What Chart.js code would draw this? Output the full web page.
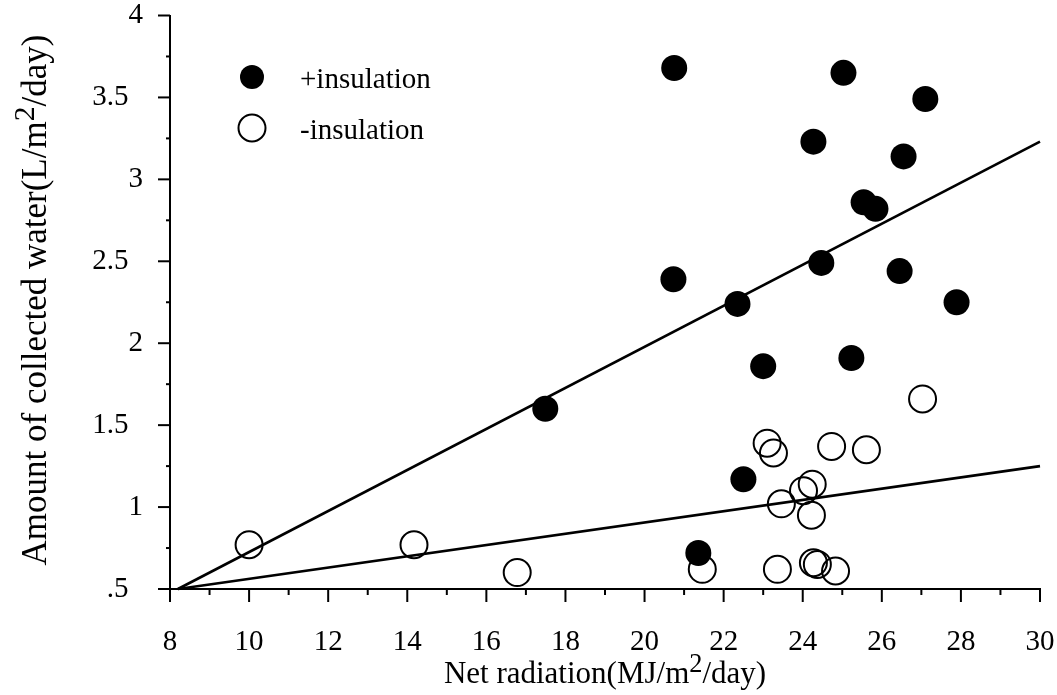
<!DOCTYPE html>
<html>
<head>
<meta charset="utf-8">
<script src="https://cdn.jsdelivr.net/npm/chart.js@4"></script>
<style>
  html, body { margin: 0; padding: 0; background: #fff; }
  #wrap { width: 1057px; height: 695px; position: relative; }
</style>
</head>
<body>
<div id="wrap"><canvas id="mainChart"></canvas></div>
<script>
// +insulation (filled circles)
const insX = [20.75, 25.03, 27.1, 24.27, 26.55, 25.54, 25.84, 24.47, 26.45, 20.73, 22.35, 27.89, 25.23, 23.0, 17.49, 22.5, 21.36];
const insY = [3.68, 3.65, 3.49, 3.23, 3.14, 2.86, 2.82, 2.49, 2.44, 2.39, 2.24, 2.25, 1.91, 1.86, 1.60, 1.17, 0.72];

// -insulation (open circles)
const noInsX = [10.0, 14.17, 16.78, 21.46, 23.1, 23.26, 24.73, 25.61, 27.03, 23.46, 24.02, 24.24, 24.22, 23.36, 24.27, 24.37, 24.83];
const noInsY = [0.77, 0.77, 0.60, 0.62, 1.39, 1.33, 1.37, 1.35, 1.66, 1.02, 1.10, 1.14, 0.95, 0.62, 0.66, 0.65, 0.61];

// regression lines (end points)
const fitInsX = [8.2, 30];
const fitInsY = [0.5, 3.23];
const fitNoInsX = [8.2, 30];
const fitNoInsY = [0.5, 1.25];

const xTickLabels = [8, 10, 12, 14, 16, 18, 20, 22, 24, 26, 28, 30];
const yTickLabels = [0.5, 1, 1.5, 2, 2.5, 3, 3.5, 4];

const FONT = "'Liberation Serif', 'Times New Roman', serif";

function toPoints(xs, ys) {
    return xs.map((v, i) => ({ x: v, y: ys[i] }));
}

function measureParts(ctx, parts, size) {
    let w = 0;
    parts.forEach(p => {
        ctx.font = (p.sup ? size * 0.85 : size) + 'px ' + FONT;
        w += ctx.measureText(p.t).width;
    });
    return w;
}

function fillParts(ctx, parts, size, x0, y0) {
    let x = x0;
    parts.forEach(p => {
        ctx.font = (p.sup ? size * 0.85 : size) + 'px ' + FONT;
        ctx.fillText(p.t, x, p.sup ? y0 - size * 0.35 : y0);
        x += ctx.measureText(p.t).width;
    });
}

const decor = {
    id: 'decor',
    afterDraw(chart) {
        const { ctx, scales: { x, y }, chartArea: a } = chart;
        ctx.save();
        ctx.strokeStyle = '#000';
        ctx.lineWidth = 2;

        // tick marks (major + minor)
        y.ticks.forEach(t => {
            const py = y.getPixelForValue(t.value);
            const major = yTickLabels.some(v => Math.abs(v - t.value) < 1e-6);
            ctx.beginPath();
            ctx.moveTo(a.left, py);
            ctx.lineTo(a.left - (major ? 12 : 4), py);
            ctx.stroke();
        });
        x.ticks.forEach(t => {
            const px = x.getPixelForValue(t.value);
            const major = xTickLabels.includes(t.value);
            ctx.beginPath();
            ctx.moveTo(px, a.bottom);
            ctx.lineTo(px, a.bottom + (major ? 13 : 6));
            ctx.stroke();
        });

        // axis titles
        ctx.fillStyle = '#000';
        ctx.textAlign = 'left';
        ctx.textBaseline = 'alphabetic';
        const xParts = [{ t: 'Net radiation(MJ/m' }, { t: '2', sup: true }, { t: '/day)' }];
        const xw = measureParts(ctx, xParts, 31);
        fillParts(ctx, xParts, 31, (a.left + a.right) / 2 - xw / 2, 683);

        const yParts = [{ t: 'Amount of collected water(L/m' }, { t: '2', sup: true }, { t: '/day)' }];
        const yw = measureParts(ctx, yParts, 35);
        ctx.save();
        ctx.translate(46, 300);
        ctx.rotate(-Math.PI / 2);
        fillParts(ctx, yParts, 35, -yw / 2, 0);
        ctx.restore();

        // legend
        ctx.beginPath();
        ctx.arc(252, 77, 12, 0, Math.PI * 2);
        ctx.fillStyle = '#000';
        ctx.fill();
        ctx.beginPath();
        ctx.arc(252, 128, 13.5, 0, Math.PI * 2);
        ctx.fillStyle = '#fff';
        ctx.fill();
        ctx.lineWidth = 2;
        ctx.stroke();
        ctx.fillStyle = '#000';
        ctx.font = '29px ' + FONT;
        ctx.fillText('+insulation', 300, 88);
        ctx.fillText('-insulation', 300, 139);

        ctx.restore();
    }
};

const ctx = document.getElementById('mainChart').getContext('2d');

const chart = new Chart(ctx, {
    type: 'scatter',
    data: {
        datasets: [
            {
                label: '+insulation fit',
                data: toPoints(fitInsX, fitInsY),
                showLine: true,
                borderColor: '#000',
                borderWidth: 2.6,
                pointRadius: 0
            },
            {
                label: '-insulation fit',
                data: toPoints(fitNoInsX, fitNoInsY),
                showLine: true,
                borderColor: '#000',
                borderWidth: 2.6,
                pointRadius: 0
            },
            {
                label: '+insulation',
                data: toPoints(insX, insY),
                pointRadius: 13,
                pointBackgroundColor: '#000',
                pointBorderColor: '#000',
                pointBorderWidth: 0
            },
            {
                label: '-insulation',
                data: toPoints(noInsX, noInsY),
                pointRadius: 13.5,
                pointBackgroundColor: 'rgba(255,255,255,0)',
                pointBorderColor: '#000',
                pointBorderWidth: 2
            }
        ]
    },
    options: {
        responsive: true,
        maintainAspectRatio: false,
        animation: false,
        clip: false,
        layout: { padding: { top: 14, right: 17, left: 0, bottom: 0 } },
        plugins: {
            legend: { display: false },
            tooltip: { enabled: false }
        },
        scales: {
            x: {
                type: 'linear',
                min: 8,
                max: 30,
                afterFit: s => {
                    s.height = 106;
                    s.paddingLeft = 0; s.paddingRight = 0;
                },
                grid: { display: false, drawTicks: false },
                border: { display: true, color: '#000', width: 2 },
                ticks: {
                    stepSize: 1,
                    autoSkip: false,
                    maxRotation: 0,
                    padding: 36,
                    color: '#000',
                    font: { family: FONT, size: 29 },
                    callback: v => xTickLabels.includes(v) ? String(v) : ''
                }
            },
            y: {
                type: 'linear',
                min: 0.5,
                max: 4,
                afterFit: s => {
                    s.width = 170;
                    s.paddingTop = 0; s.paddingBottom = 0;
                },
                grid: { display: false, drawTicks: false },
                border: { display: true, color: '#000', width: 2 },
                ticks: {
                    stepSize: 0.25,
                    autoSkip: false,
                    padding: 27,
                    color: '#000',
                    font: { family: FONT, size: 29 },
                    callback: v => {
                        if (!yTickLabels.some(t => Math.abs(t - v) < 1e-6)) return '';
                        if (v === 0.5) return '.5\u2002';
                        return Number.isInteger(v) ? String(v) : v + '\u2002';
                    }
                }
            }
        }
    },
    plugins: [decor]
});
</script>
</body>
</html>
